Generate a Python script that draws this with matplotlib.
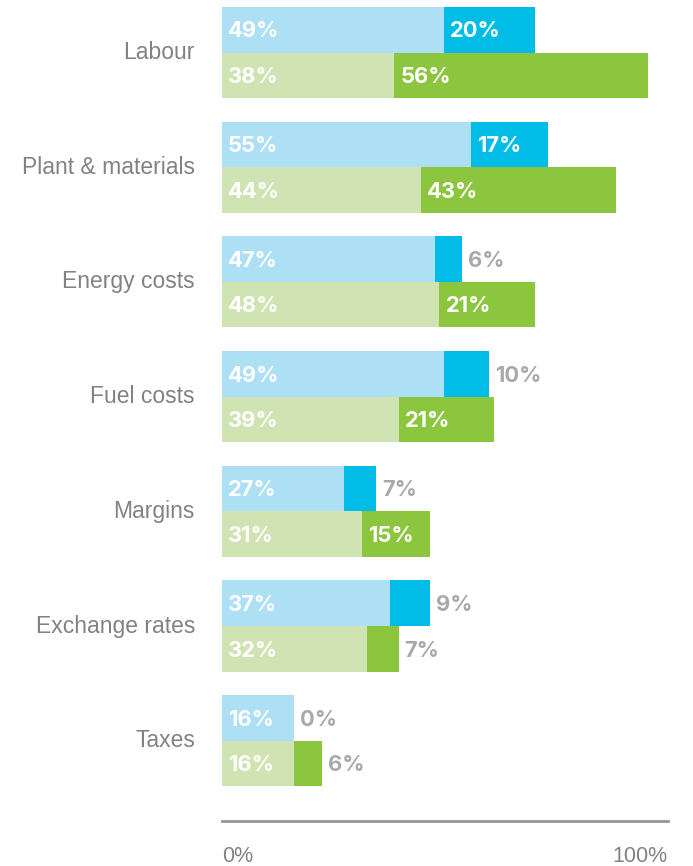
import matplotlib.pyplot as plt

# survey shares (%), first = light segment, second = dark segment
categories = ['Labour', 'Plant & materials', 'Energy costs', 'Fuel costs',
              'Margins', 'Exchange rates', 'Taxes']
blue_base = [49, 55, 47, 49, 27, 37, 16]
blue_extra = [20, 17, 6, 10, 7, 9, 0]
green_base = [38, 44, 48, 39, 31, 32, 16]
green_extra = [56, 43, 21, 21, 15, 7, 6]

light_blue = '#ADE0F4'
dark_blue = '#00BCE6'
light_green = '#D0E4B3'
dark_green = '#8CC63F'
grey_txt = '#A7A9AC'
label_grey = '#808285'

plt.rcParams['font.family'] = ['Liberation Sans', 'DejaVu Sans']

W, H = 693, 866
fig = plt.figure(figsize=(W / 100, H / 100), dpi=100)
x0, x1 = 222, 668
ax = fig.add_axes([x0 / W, (H - 821) / H, (x1 - x0) / W, 821 / H])

px_per_pct = 4.53
xmax = (x1 - x0) / px_per_pct
ax.set_xlim(0, xmax)
ax.set_ylim(6.70, -0.458)

bh = 0.397
val_fs = 15.8


def label(x, y, txt, inside):
    off = 6 / px_per_pct
    ax.text(x + off, y + 0.015, txt, ha='left', va='center', fontsize=val_fs,
            fontweight='bold', family=['Inter', 'DejaVu Sans'],
            color='white' if inside else grey_txt)


for i, cat in enumerate(categories):
    yb = i - bh / 2
    yg = i + bh / 2
    ax.barh(yb, blue_base[i], height=bh, color=light_blue, linewidth=0)
    ax.barh(yb, blue_extra[i], left=blue_base[i], height=bh, color=dark_blue, linewidth=0)
    ax.barh(yg, green_base[i], height=bh, color=light_green, linewidth=0)
    ax.barh(yg, green_extra[i], left=green_base[i], height=bh, color=dark_green, linewidth=0)

    label(0, yb, f'{blue_base[i]}%', True)
    label(0, yg, f'{green_base[i]}%', True)
    if blue_extra[i] >= 15:
        label(blue_base[i], yb, f'{blue_extra[i]}%', True)
    else:
        label(blue_base[i] + blue_extra[i], yb, f'{blue_extra[i]}%', False)
    if green_extra[i] >= 15:
        label(green_base[i], yg, f'{green_extra[i]}%', True)
    else:
        label(green_base[i] + green_extra[i], yg, f'{green_extra[i]}%', False)

    ax.text(-27 / px_per_pct, i, cat, ha='right', va='center',
            fontsize=16.5, color=label_grey)

for s in ['top', 'left', 'right']:
    ax.spines[s].set_visible(False)
ax.spines['bottom'].set_color('#939598')
ax.spines['bottom'].set_linewidth(2)
ax.set_yticks([])
ax.set_xticks([])

fig.text(x0 / W, (H - 857) / H, '0%', ha='left', va='center', fontsize=15.5, color=label_grey)
fig.text(x1 / W, (H - 857) / H, '100%', ha='right', va='center', fontsize=15.5, color=label_grey)

fig.savefig('out.png', dpi=100)
